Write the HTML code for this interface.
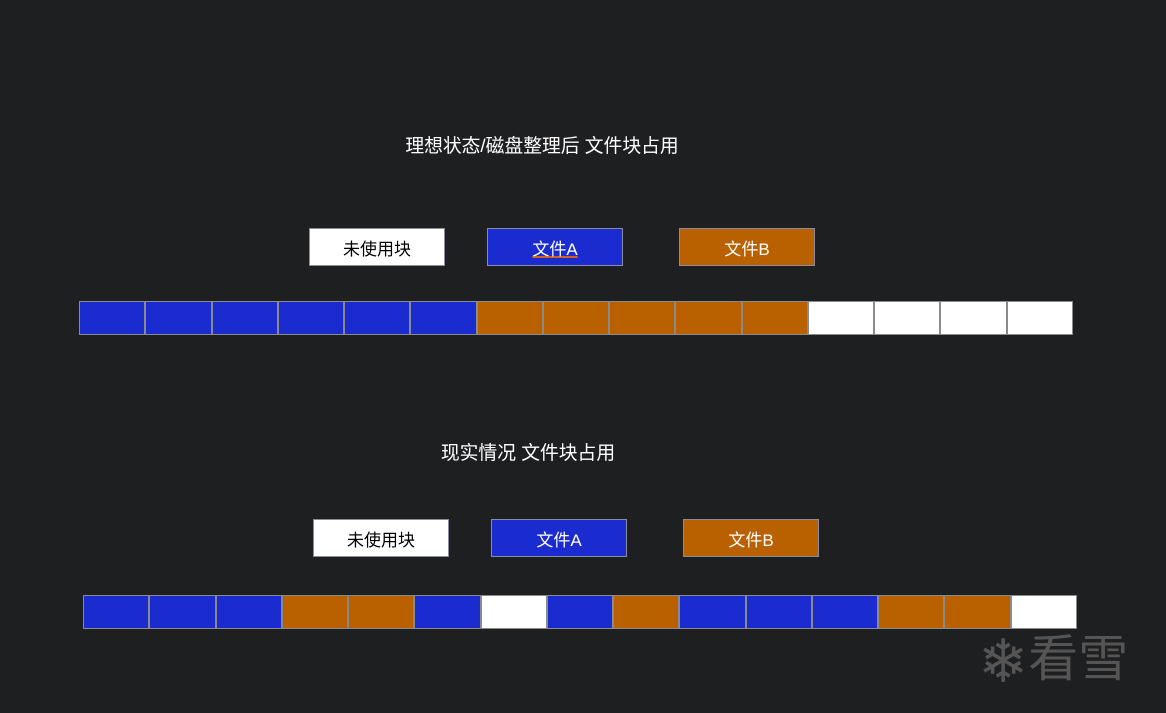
<!DOCTYPE html><html><head><meta charset="utf-8"><style>
body{margin:0;width:1166px;height:713px;background:#1e1f21;position:relative;overflow:hidden;font-family:"Liberation Sans","Noto Sans CJK SC",sans-serif;}
.t{position:absolute;color:#fff;font-size:18.8px;white-space:nowrap;transform:translateX(-50%);line-height:22px}
.l{position:absolute;width:136px;height:38px;box-sizing:border-box;border:1px solid #8a8aa0;display:flex;align-items:center;justify-content:center;font-size:17px;color:#fff}
.row{position:absolute;height:34px;display:flex}
.row div{width:66.27px;height:34px;box-sizing:border-box;border:1px solid #8a8a8a}
.b{background:#1a2bd0}.o{background:#b96000}.w{background:#fff}
</style></head><body>
<div class="t" style="left:542px;top:135px">理想状态/磁盘整理后 文件块占用</div>
<div class="l w" style="left:309px;top:228px;color:#000">未使用块</div>
<div class="l b" style="left:487px;top:228px"><span style="text-decoration:underline solid #d06020 2px">文件A</span></div>
<div class="l o" style="left:679px;top:228px">文件B</div>
<div class="row" style="left:79px;top:301px"><div class="b"></div><div class="b"></div><div class="b"></div><div class="b"></div><div class="b"></div><div class="b"></div><div class="o"></div><div class="o"></div><div class="o"></div><div class="o"></div><div class="o"></div><div class="w"></div><div class="w"></div><div class="w"></div><div class="w"></div></div>
<div class="t" style="left:528px;top:442px">现实情况 文件块占用</div>
<div class="l w" style="left:313px;top:519px;color:#000">未使用块</div>
<div class="l b" style="left:491px;top:519px">文件A</div>
<div class="l o" style="left:683px;top:519px">文件B</div>
<div class="row" style="left:83px;top:595px"><div class="b"></div><div class="b"></div><div class="b"></div><div class="o"></div><div class="o"></div><div class="b"></div><div class="w"></div><div class="b"></div><div class="o"></div><div class="b"></div><div class="b"></div><div class="b"></div><div class="o"></div><div class="o"></div><div class="w"></div></div>
<div style="position:absolute;left:978px;top:624px;color:#555;font-size:60px;line-height:70px;white-space:nowrap">❄<span style="font-size:50px;vertical-align:6px">看雪</span></div>
</body></html>
